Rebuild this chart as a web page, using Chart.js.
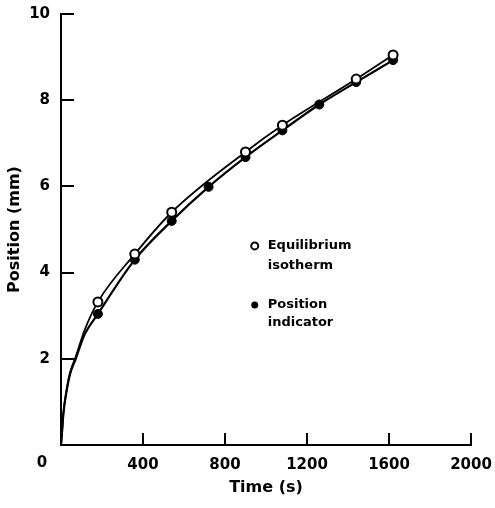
<!DOCTYPE html>
<html>
<head>
<meta charset="utf-8">
<title>Position vs time</title>
<script src="https://cdn.jsdelivr.net/npm/chart.js@4"></script>
<style>
  html, body { margin: 0; padding: 0; background: #fff; }
  #wrap { width: 495px; height: 508px; position: relative; }
</style>
</head>
<body>
<div id="wrap"><canvas id="chart"></canvas></div>
<script>
// Data
const xTicks = [0, 400, 800, 1200, 1600, 2000];
const yTicks = [0, 2, 4, 6, 8, 10];

const openTime = [180, 360, 540, 900, 1080, 1440, 1620];
const openPos = [3.32, 4.43, 5.40, 6.80, 7.42, 8.49, 9.05];

const filledTime = [180, 360, 540, 720, 900, 1080, 1260, 1440, 1620];
const filledPos = [3.04, 4.30, 5.20, 5.99, 6.68, 7.30, 7.90, 8.42, 8.93];

// start of the smooth curves near the origin
const startTime = [0, 5, 12, 28, 44, 72, 114];
const startOpen = [0, 0.3, 0.76, 1.3, 1.68, 2.05, 2.65];
const startFilled = [0, 0.3, 0.74, 1.27, 1.64, 2.0, 2.55];

const FONT = '"DejaVu Sans", sans-serif';

function toPoints(xs, ys) {
    return xs.map((x, i) => ({ x: x, y: ys[i] }));
}

// ticks pointing inward + the shared "0" at the origin
const innerTicks = {
    id: 'innerTicks',
    afterDraw(chart) {
        const ctx = chart.ctx;
        const xs = chart.scales.x, ys = chart.scales.y;
        const area = chart.chartArea;
        ctx.save();
        ctx.strokeStyle = '#000';
        ctx.lineWidth = 2;
        xTicks.slice(1).forEach(v => {
            const px = Math.round(xs.getPixelForValue(v));
            ctx.beginPath();
            ctx.moveTo(px, area.bottom);
            ctx.lineTo(px, area.bottom - 12);
            ctx.stroke();
        });
        yTicks.slice(1).forEach(v => {
            const py = Math.round(ys.getPixelForValue(v));
            ctx.beginPath();
            ctx.moveTo(area.left, py);
            ctx.lineTo(area.left + 13, py);
            ctx.stroke();
        });
        ctx.fillStyle = '#000';
        ctx.font = 'bold 15px ' + FONT;
        ctx.textAlign = 'center';
        ctx.textBaseline = 'middle';
        ctx.fillText('0', area.left - 19, area.bottom + 18);
        ctx.restore();
    }
};

// legend drawn inside the plot like the original
const innerLegend = {
    id: 'innerLegend',
    afterDraw(chart) {
        const ctx = chart.ctx;
        const xs = chart.scales.x, ys = chart.scales.y;
        const mx = xs.getPixelForValue(945);
        ctx.save();
        ctx.lineWidth = 2;
        ctx.strokeStyle = '#000';
        ctx.fillStyle = '#fff';
        ctx.beginPath();
        ctx.arc(mx, ys.getPixelForValue(4.62), 3.5, 0, Math.PI * 2);
        ctx.fill();
        ctx.stroke();
        ctx.fillStyle = '#000';
        ctx.beginPath();
        ctx.arc(mx, ys.getPixelForValue(3.25), 3.5, 0, Math.PI * 2);
        ctx.fill();
        ctx.font = 'bold 13px ' + FONT;
        ctx.textAlign = 'left';
        ctx.textBaseline = 'middle';
        const tx = mx + 13;
        ctx.fillText('Equilibrium', tx, ys.getPixelForValue(4.62));
        ctx.fillText('isotherm', tx, ys.getPixelForValue(4.16));
        ctx.fillText('Position', tx, ys.getPixelForValue(3.25));
        ctx.fillText('indicator', tx, ys.getPixelForValue(2.85));
        ctx.restore();
    }
};

new Chart(document.getElementById('chart'), {
    type: 'line',
    data: {
        datasets: [
            {
                label: 'Equilibrium isotherm',
                data: toPoints(openTime, openPos),
                showLine: false,
                pointRadius: 4.5,
                pointBorderWidth: 2,
                pointBackgroundColor: '#fff',
                pointBorderColor: '#000'
            },
            {
                label: 'Position indicator',
                data: toPoints(filledTime, filledPos),
                showLine: false,
                pointRadius: 4.5,
                pointBorderWidth: 1,
                pointBackgroundColor: '#000',
                pointBorderColor: '#000'
            },
            {
                label: 'isotherm curve',
                data: toPoints(startTime.concat(openTime), startOpen.concat(openPos)),
                borderColor: '#000',
                borderWidth: 1.8,
                pointRadius: 0,
                cubicInterpolationMode: 'monotone'
            },
            {
                label: 'indicator curve',
                data: toPoints(startTime.concat(filledTime), startFilled.concat(filledPos)),
                borderColor: '#000',
                borderWidth: 2.2,
                pointRadius: 0,
                cubicInterpolationMode: 'monotone'
            }
        ]
    },
    options: {
        responsive: true,
        maintainAspectRatio: false,
        animation: false,
        layout: { padding: { top: 14, right: 24, left: 0, bottom: 0 } },
        plugins: {
            legend: { display: false },
            tooltip: { enabled: false }
        },
        scales: {
            x: {
                type: 'linear',
                min: 0,
                max: 2000,
                afterFit: s => { s.height = 63; },
                afterBuildTicks: s => { s.ticks = xTicks.map(v => ({ value: v })); },
                grid: { display: false },
                border: { color: '#000', width: 2 },
                ticks: {
                    color: '#000',
                    padding: 3,
                    maxRotation: 0,
                    font: { family: FONT, size: 15, weight: 'bold' },
                    callback: v => (v === 0 ? null : String(v))
                },
                title: {
                    display: true,
                    text: 'Time (s)',
                    color: '#000',
                    font: { family: FONT, size: 16, weight: 'bold' },
                    padding: { top: 0, bottom: 11 }
                }
            },
            y: {
                min: 0,
                max: 10,
                afterFit: s => { s.width = 61; },
                afterBuildTicks: s => { s.ticks = yTicks.map(v => ({ value: v })); },
                grid: { display: false },
                border: { color: '#000', width: 2 },
                ticks: {
                    color: '#000',
                    padding: 3,
                    font: { family: FONT, size: 15, weight: 'bold' },
                    callback: v => (v === 0 ? null : String(v))
                },
                title: {
                    display: true,
                    text: 'Position (mm)',
                    color: '#000',
                    font: { family: FONT, size: 16, weight: 'bold' },
                    padding: { top: 5, bottom: 0 }
                }
            }
        }
    },
    plugins: [innerTicks, innerLegend]
});
</script>
</body>
</html>
